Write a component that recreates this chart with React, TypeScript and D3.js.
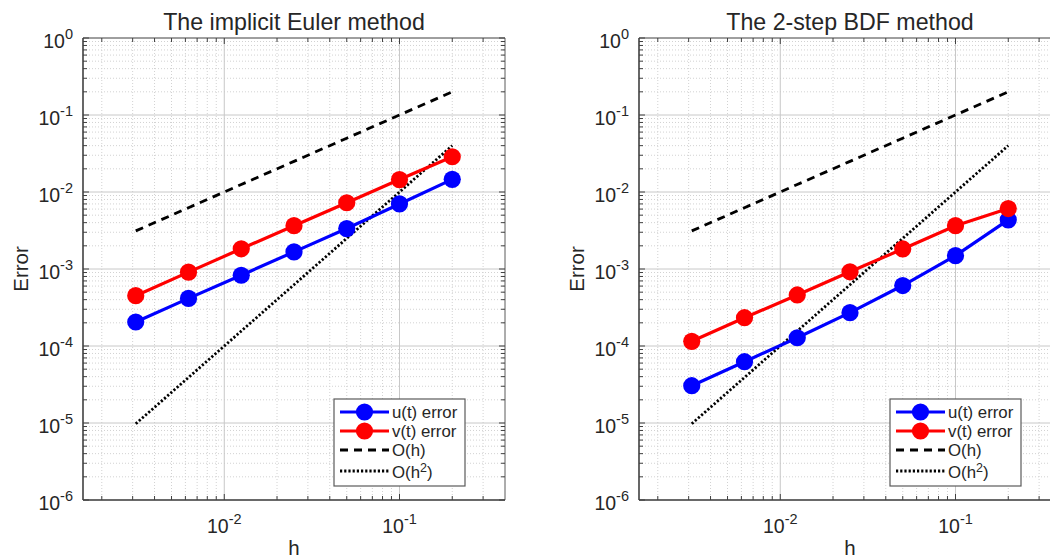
import React from "react";
import * as d3 from "d3";

// Step sizes shared by both convergence studies
const hValues = [0.003125, 0.00625, 0.0125, 0.025, 0.05, 0.1, 0.2];

// Implicit Euler errors
const eulerU = [2.05e-4, 4.15e-4, 8.3e-4, 1.67e-3, 3.35e-3, 7.0e-3, 1.46e-2];
const eulerV = [4.5e-4, 9.1e-4, 1.83e-3, 3.65e-3, 7.25e-3, 1.45e-2, 2.87e-2];

// 2-step BDF errors
const bdfU = [3.05e-5, 6.25e-5, 1.28e-4, 2.71e-4, 6.1e-4, 1.49e-3, 4.35e-3];
const bdfV = [1.15e-4, 2.33e-4, 4.6e-4, 9.2e-4, 1.82e-3, 3.65e-3, 6.1e-3];

// Reference slopes
const orderOne = [0.003125, 0.00625, 0.0125, 0.025, 0.05, 0.1, 0.2];
const orderTwo = [9.766e-6, 3.906e-5, 1.5625e-4, 6.25e-4, 2.5e-3, 1.0e-2, 4.0e-2];

const xDomain: [number, number] = [0.0015625, 0.4];
const yDomain: [number, number] = [1e-6, 1];
const xTickExps = [-2, -1];
const yTickExps = [0, -1, -2, -3, -4, -5, -6];

const legendLabels = ["u(t) error", "v(t) error", "O(h)", "O(h"];

const FONT = "'Liberation Sans', Arial, Helvetica, sans-serif";
const TEXT = "#262626";
const BLUE = "#0000ff";
const RED = "#ff0000";

type PanelProps = {
  left: number;
  title: string;
  u: number[];
  v: number[];
};

function minorValues(lo: number, hi: number): number[] {
  const out: number[] = [];
  for (let e = Math.floor(Math.log10(lo)); e <= Math.ceil(Math.log10(hi)); e++) {
    for (let k = 2; k <= 9; k++) {
      const val = k * Math.pow(10, e);
      if (val > lo * 1.0001 && val < hi * 0.9999) out.push(val);
    }
  }
  return out;
}

function Panel({ left, title, u, v }: PanelProps) {
  const top = 38;
  const bottom = 500;
  const width = 422;
  const right = left + width;
  const x = d3.scaleLog().domain(xDomain).range([left, right]);
  const y = d3.scaleLog().domain(yDomain).range([bottom, top]);
  const line = d3
    .line<number>()
    .x((_, i) => x(hValues[i]))
    .y((d) => y(d));

  const xMinor = minorValues(xDomain[0], xDomain[1]);
  const yMinor = minorValues(yDomain[0], yDomain[1]);
  const xMajor = xTickExps.map((e) => Math.pow(10, e));
  const yMajor = yTickExps.map((e) => Math.pow(10, e));
  const cx = (left + right) / 2;

  const legX = left + 251;
  const legY = 399;
  const rowY = [412, 431, 450, 472];
  const sampleX0 = legX + 6;
  const sampleX1 = legX + 55;
  const sampleMid = (sampleX0 + sampleX1) / 2;
  const textX = legX + 58;
  const markerR = 8.6;

  return (
    <g>
      {/* minor grid */}
      {xMinor.map((d) => (
        <line key={"gxm" + d} x1={x(d)} x2={x(d)} y1={top} y2={bottom}
          stroke="#d2d2d2" strokeWidth={1} strokeDasharray="1,2" />
      ))}
      {yMinor.map((d) => (
        <line key={"gym" + d} x1={left} x2={right} y1={y(d)} y2={y(d)}
          stroke="#d2d2d2" strokeWidth={1} strokeDasharray="1,2" />
      ))}
      {/* major grid */}
      {xMajor.map((d) => (
        <line key={"gx" + d} x1={x(d)} x2={x(d)} y1={top} y2={bottom}
          stroke="#c8c8c8" strokeWidth={1} />
      ))}
      {yMajor.map((d) => (
        <line key={"gy" + d} x1={left} x2={right} y1={y(d)} y2={y(d)}
          stroke="#c8c8c8" strokeWidth={1} />
      ))}

      {/* reference slopes */}
      <path d={line(orderOne) || ""} fill="none" stroke="#000" strokeWidth={2.8}
        strokeDasharray="8,6" />
      <path d={line(orderTwo) || ""} fill="none" stroke="#000" strokeWidth={2.8}
        strokeDasharray="2.2,2" />

      {/* error curves */}
      <path d={line(u) || ""} fill="none" stroke={BLUE} strokeWidth={3.2} />
      {u.map((d, i) => (
        <circle key={"u" + i} cx={x(hValues[i])} cy={y(d)} r={markerR} fill={BLUE} />
      ))}
      <path d={line(v) || ""} fill="none" stroke={RED} strokeWidth={3.2} />
      {v.map((d, i) => (
        <circle key={"v" + i} cx={x(hValues[i])} cy={y(d)} r={markerR} fill={RED} />
      ))}

      {/* axes box */}
      <line x1={left} x2={right} y1={top} y2={top} stroke="#5a5a5a" strokeWidth={1} />
      <line x1={right} x2={right} y1={top} y2={bottom} stroke="#5a5a5a" strokeWidth={1} />
      <line x1={left} x2={right} y1={bottom} y2={bottom} stroke="#404040" strokeWidth={1.6} />
      <line x1={left} x2={left} y1={top} y2={bottom} stroke="#404040" strokeWidth={1.6} />

      {/* ticks */}
      {xMinor.map((d) => (
        <g key={"txm" + d}>
          <line x1={x(d)} x2={x(d)} y1={bottom} y2={bottom - 4} stroke="#404040" />
          <line x1={x(d)} x2={x(d)} y1={top} y2={top + 4} stroke="#404040" />
        </g>
      ))}
      {xMajor.map((d) => (
        <g key={"tx" + d}>
          <line x1={x(d)} x2={x(d)} y1={bottom} y2={bottom - 6} stroke="#404040" />
          <line x1={x(d)} x2={x(d)} y1={top} y2={top + 6} stroke="#404040" />
        </g>
      ))}
      {yMinor.map((d) => (
        <g key={"tym" + d}>
          <line x1={left} x2={left + 4} y1={y(d)} y2={y(d)} stroke="#404040" />
          <line x1={right} x2={right - 4} y1={y(d)} y2={y(d)} stroke="#404040" />
        </g>
      ))}
      {yMajor.map((d) => (
        <g key={"ty" + d}>
          <line x1={left} x2={left + 6} y1={y(d)} y2={y(d)} stroke="#404040" />
          <line x1={right} x2={right - 6} y1={y(d)} y2={y(d)} stroke="#404040" />
        </g>
      ))}

      {/* tick labels */}
      {xTickExps.map((e) => (
        <text key={"lx" + e} x={x(Math.pow(10, e))} y={bottom + 33} textAnchor="middle"
          fontFamily={FONT} fontSize={19.5} fill={TEXT}>
          <tspan>10</tspan>
          <tspan dy={-9.5} fontSize={14.5}>{String(e)}</tspan>
        </text>
      ))}
      {yTickExps.map((e) => (
        <text key={"ly" + e} x={left - 10} y={y(Math.pow(10, e)) + 10} textAnchor="end"
          fontFamily={FONT} fontSize={19.5} fill={TEXT}>
          <tspan>10</tspan>
          <tspan dy={-9.5} fontSize={14.5}>{String(e)}</tspan>
        </text>
      ))}

      {/* labels */}
      <text x={cx} y={29.5} textAnchor="middle" fontFamily={FONT} fontSize={23.2} fill={TEXT}>
        {title}
      </text>
      <text x={cx} y={555} textAnchor="middle" fontFamily={FONT} fontSize={20.5} fill={TEXT}>
        h
      </text>
      <text transform={`translate(${left - 55},${(top + bottom) / 2}) rotate(-90)`}
        textAnchor="middle" fontFamily={FONT} fontSize={20.5} fill={TEXT}>
        Error
      </text>

      {/* legend */}
      <rect x={legX} y={legY} width={131} height={87} fill="#fff" stroke="#5a5a5a" strokeWidth={1.2} />
      <line x1={sampleX0} x2={sampleX1} y1={rowY[0]} y2={rowY[0]} stroke={BLUE} strokeWidth={3.2} />
      <circle cx={sampleMid} cy={rowY[0]} r={markerR} fill={BLUE} />
      <line x1={sampleX0} x2={sampleX1} y1={rowY[1]} y2={rowY[1]} stroke={RED} strokeWidth={3.2} />
      <circle cx={sampleMid} cy={rowY[1]} r={markerR} fill={RED} />
      <line x1={sampleX0} x2={sampleX1} y1={rowY[2]} y2={rowY[2]} stroke="#000" strokeWidth={2.8}
        strokeDasharray="8,6" />
      <line x1={sampleX0} x2={sampleX1} y1={rowY[3] - 1} y2={rowY[3] - 1} stroke="#000" strokeWidth={2.8}
        strokeDasharray="2.2,2" />
      {legendLabels.map((t, i) => (
        <text key={"leg" + i} x={textX} y={rowY[i] + 6} fontFamily={FONT} fontSize={16.8} fill={TEXT}>
          {t}
          {i === 3 ? (
            <>
              <tspan dy={-6.5} fontSize={12.5}>2</tspan>
              <tspan dy={6.5}>)</tspan>
            </>
          ) : null}
        </text>
      ))}
    </g>
  );
}

export default function App() {
  return (
    <svg width={1050} height={558} style={{ position: "absolute", left: 0, top: 0, background: "#fff" }}>
      <rect width={1050} height={558} fill="#fff" />
      <Panel left={83} title="The implicit Euler method" u={eulerU} v={eulerV} />
      <Panel left={639} title="The 2-step BDF method" u={bdfU} v={bdfV} />
    </svg>
  );
}
